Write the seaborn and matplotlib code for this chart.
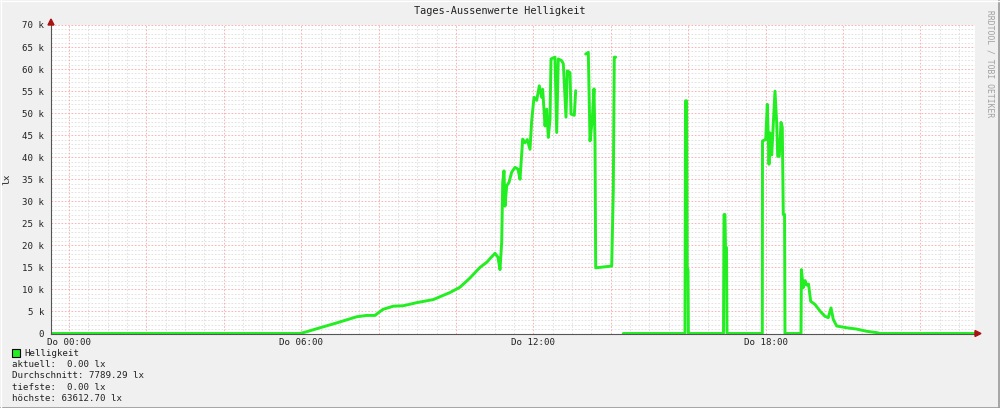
import numpy as np
import pandas as pd
import matplotlib
matplotlib.use("Agg")
import matplotlib.pyplot as plt
from matplotlib.patches import Rectangle
from matplotlib.lines import Line2D
from matplotlib.ticker import MultipleLocator, FixedLocator, FuncFormatter
import seaborn as sns

sns.set_style("white")
plt.rcParams['font.family'] = ['DejaVu Sans Mono', 'DejaVu Sans']

# Stunden seit Do 00:00, Helligkeit in k lx (drei Abschnitte, dazwischen keine Daten)
seg1_hours = [-0.465, 5.969, 6.142, 6.486, 6.917, 7.434, 7.692, 7.907, 7.992, 8.121,
              8.380, 8.638, 8.985, 9.413, 9.845, 10.103, 10.362, 10.620, 10.801, 10.879,
              11.008, 11.085, 11.137, 11.181, 11.207, 11.240, 11.266, 11.310, 11.370, 11.439,
              11.525, 11.602, 11.654, 11.723, 11.783, 11.842, 11.912, 11.956, 12.016, 12.085,
              12.152, 12.214, 12.240, 12.300, 12.344, 12.385, 12.429, 12.455, 12.558, 12.602,
              12.643, 12.731, 12.773, 12.842, 12.876, 12.946, 12.972, 13.057, 13.093]
seg1_klx = [0, 0, 0.4, 1.3, 2.4, 3.8, 4.1, 4.1, 4.7, 5.5,
            6.2, 6.3, 7.0, 7.7, 9.3, 10.5, 12.6, 15.0, 16.2, 17.0,
            18.2, 17.3, 14.5, 20.7, 34.3, 36.9, 28.9, 33.5, 34.3, 36.6,
            37.7, 37.3, 35.0, 44.1, 43.3, 44.0, 41.8, 48.3, 53.6, 52.9,
            56.2, 53.6, 55.4, 47.1, 50.9, 44.5, 48.6, 62.3, 62.7, 45.6,
            62.3, 61.9, 61.2, 49.1, 59.6, 59.2, 49.8, 49.5, 55.1]

seg2_hours = [13.351, 13.419, 13.463, 13.522, 13.566, 13.592, 13.610, 14.023, 14.065, 14.090, 14.127]
seg2_klx = [63.4, 63.8, 43.7, 48.6, 55.5, 43.5, 14.9, 15.3, 32.7, 62.7, 62.7]

seg3_hours = [14.323, 15.917, 15.930, 15.960, 15.975, 15.995, 16.005, 16.912, 16.925, 16.950,
              16.964, 16.990, 17.003, 17.915, 17.920, 18.003, 18.044, 18.088, 18.114, 18.158,
              18.199, 18.243, 18.287, 18.313, 18.354, 18.398, 18.431, 18.457, 18.490, 18.501,
              18.915, 18.925, 18.974, 19.020, 19.062, 19.110, 19.165, 19.276, 19.406, 19.535,
              19.620, 19.690, 19.749, 19.837, 20.096, 20.354, 20.612, 20.871, 20.956, 23.411]
seg3_klx = [0, 0, 52.8, 52.8, 14.5, 14.5, 0, 0, 27.0, 27.0,
            19.5, 19.5, 0, 0, 43.7, 44.0, 52.0, 38.4, 45.5, 40.5,
            47.6, 55.0, 47.7, 40.2, 40.2, 47.9, 46.8, 27.0, 27.0, 0,
            0, 14.5, 10.4, 12.0, 11.0, 11.2, 7.3, 6.6, 5.1, 3.9,
            3.6, 5.8, 3.2, 1.7, 1.3, 1.0, 0.5, 0.2, 0, 0]

x_ticks = [0, 6, 12, 18]
x_labels = ["Do 00:00", "Do 06:00", "Do 12:00", "Do 18:00"]
legend_lines = ["aktuell:  0.00 lx",
                "Durchschnitt: 7789.29 lx",
                "tiefste:  0.00 lx",
                "höchste: 63612.70 lx"]

frames = []
for i, (h, v) in enumerate([(seg1_hours, seg1_klx), (seg2_hours, seg2_klx), (seg3_hours, seg3_klx)]):
    frames.append(pd.DataFrame({'hour': h, 'lx': np.array(v) * 1000, 'seg': i}))
df = pd.concat(frames, ignore_index=True)

green = '#22EE22'
W, H = 1000, 408
fig = plt.figure(figsize=(10, 4.08), dpi=100, facecolor='#F0F0F0')
ax = fig.add_axes([51 / W, 1 - 333.5 / H, (975 - 51) / W, (333.5 - 25) / H])
ax.set_facecolor('white')

ax.set_xlim(-0.465, 23.411)
ax.set_ylim(0, 70000)

# Gitter
for xv in np.arange(0, 23.5, 0.5):
    if abs(xv % 2) < 1e-9:
        ax.axvline(xv, color='#F6A8A8', lw=0.6, ls=(0, (2, 2)), zorder=1)
    else:
        ax.axvline(xv, color='#DDDDDD', lw=0.6, ls=(0, (2, 2)), zorder=0.5)
for yv in range(1000, 70001, 1000):
    if yv % 5000 == 0:
        ax.axhline(yv, color='#F6A8A8', lw=0.6, ls=(0, (2, 2)), zorder=1)
    else:
        ax.axhline(yv, color='#DDDDDD', lw=0.6, ls=(0, (2, 2)), zorder=0.5)

sns.lineplot(data=df, x='hour', y='lx', units='seg', estimator=None, sort=False,
             color=green, lw=2.1, ax=ax, zorder=3)

ax.xaxis.set_major_locator(FixedLocator(x_ticks))
ax.set_xticklabels(x_labels)
ax.yaxis.set_major_locator(MultipleLocator(5000))
ax.yaxis.set_major_formatter(FuncFormatter(lambda v, p: "0" if v == 0 else f"{v/1000:.0f} k"))
ax.tick_params(axis='both', which='major', labelsize=6.6, colors='#222222', length=2, width=0.6)
ax.tick_params(axis='x', pad=1)
ax.tick_params(axis='y', pad=3)
ax.tick_params(axis='both', which='minor', length=0)
ax.set_xlabel("")
ax.set_ylabel("lx", fontsize=6.8, color='#222222')
ax.yaxis.set_label_coords(-0.043, 0.5)

for s in ['top', 'right']:
    ax.spines[s].set_visible(False)
for s in ['left', 'bottom']:
    ax.spines[s].set_color('#555555')
    ax.spines[s].set_linewidth(0.8)
    ax.spines[s].set_zorder(4)

# Pfeile an den Achsen
fig.patches.append(plt.Polygon([[48 / W, 1 - 25 / H], [54 / W, 1 - 25 / H], [51 / W, 1 - 19 / H]],
                               closed=True, transform=fig.transFigure, color='#AA1111'))
fig.patches.append(plt.Polygon([[975 / W, 1 - 330.5 / H], [975 / W, 1 - 336.5 / H], [981 / W, 1 - 333.5 / H]],
                               closed=True, transform=fig.transFigure, color='#AA1111'))

fig.text(0.5, 1 - 11 / H, "Tages-Aussenwerte Helligkeit", ha='center', va='center',
         fontsize=7.4, color='#222222')
fig.text(990 / W, 1 - 10 / H, "RRDTOOL / TOBI OETIKER", rotation=270, ha='center', va='top',
         fontsize=5.8, color='#A0A0A0')

# Legende
fig.patches.append(Rectangle((12 / W, 1 - 357 / H), 8 / W, 8 / H, transform=fig.transFigure,
                             facecolor=green, edgecolor='black', lw=0.8))
fig.text(24 / W, 1 - 353.5 / H, "Helligkeit", ha='left', va='center', fontsize=6.6, color='#222222')
for i, line in enumerate(legend_lines):
    fig.text(12 / W, 1 - (364.5 + i * 11.3) / H, line, ha='left', va='center',
             fontsize=6.6, color='#222222')

# Rahmen
fig.lines.append(Line2D([0, 1], [0.5 / H, 0.5 / H], transform=fig.transFigure, color='#999999', lw=1.2))
fig.lines.append(Line2D([1 - 1.5 / W, 1 - 1.5 / W], [0, 1], transform=fig.transFigure, color='#999999', lw=1.2))
fig.lines.append(Line2D([0, 1], [1 - 0.5 / H, 1 - 0.5 / H], transform=fig.transFigure, color='#FFFFFF', lw=1.0))
fig.lines.append(Line2D([0.5 / W, 0.5 / W], [0, 1], transform=fig.transFigure, color='#FFFFFF', lw=1.0))

fig.savefig("out.png", dpi=100, facecolor=fig.get_facecolor())
